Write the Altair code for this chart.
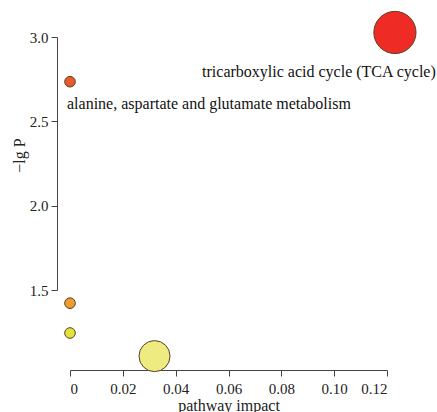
import altair as alt
import pandas as pd

pathways = [
    "tricarboxylic acid cycle (TCA cycle)",
    "alanine, aspartate and glutamate metabolism",
    "pathway 3",
    "pathway 4",
    "pathway 5",
]
impact = [0.123, 0.0, 0.0, 0.0, 0.032]
neglogp = [3.027, 2.735, 1.422, 1.245, 1.108]
labels = [
    "tricarboxylic acid cycle (TCA cycle)",
    "alanine, aspartate and glutamate metabolism",
    "",
    "",
    "",
]
colors = ["#EE2B25", "#E85A2A", "#EE9B32", "#E2E23A", "#EEEC80"]

df = pd.DataFrame({"pathway": pathways, "impact": impact, "lgp": neglogp, "label": labels})

FONT = "Liberation Serif"

x = alt.X(
    "impact:Q",
    scale=alt.Scale(domain=[0, 0.12], nice=False, zero=False),
    axis=alt.Axis(
        title="pathway impact",
        values=[0, 0.02, 0.04, 0.06, 0.08, 0.10, 0.12],
        labelExpr="datum.value == 0 ? '0' : format(datum.value, '.2f')",
        offset=80,
        grid=False,
        tickSize=6,
        labelPadding=5,
        titlePadding=1,
        labelFontSize=15,
        titleFontSize=16,
    ),
)
y = alt.Y(
    "lgp:Q",
    scale=alt.Scale(domain=[1.5, 3.0], nice=False, zero=False),
    axis=alt.Axis(
        title="−lg P",
        values=[1.5, 2.0, 2.5, 3.0],
        format=".1f",
        offset=13,
        grid=False,
        tickSize=6,
        labelPadding=3,
        titlePadding=2,
        titleY=118,
        labelFontSize=15,
        titleFontSize=16,
    ),
)

points = alt.Chart(df).mark_circle(opacity=1, stroke="#5a4028", strokeWidth=1).encode(
    x=x,
    y=y,
    size=alt.Size(
        "impact:Q",
        scale=alt.Scale(type="pow", exponent=0.5, domain=[0, 0.123], range=[113, 1780]),
        legend=None,
    ),
    color=alt.Color("pathway:N", scale=alt.Scale(domain=pathways, range=colors), legend=None),
)

tca = alt.Chart(df).transform_filter(alt.datum.label == labels[0]).mark_text(
    font=FONT, fontSize=16, align="center", baseline="middle", dx=-76, dy=40, color="#111"
).encode(x="impact:Q", y="lgp:Q", text="label:N")

ala = alt.Chart(df).transform_filter(alt.datum.label == labels[1]).mark_text(
    font=FONT, fontSize=16, align="left", baseline="middle", dx=-3, dy=22, color="#111"
).encode(x="impact:Q", y="lgp:Q", text="label:N")

chart = (
    alt.layer(points, tca, ala)
    .properties(
        width=317,
        height=253,
        autosize=alt.AutoSizeParams(type="none"),
        padding={"left": 70, "top": 37, "right": 50, "bottom": 122},
        background="white",
    )
    .configure_view(stroke=None)
    .configure_axis(
        labelFont=FONT,
        titleFont=FONT,
        titleFontWeight="normal",
        labelColor="#222",
        titleColor="#222",
        domainColor="#444",
        tickColor="#444",
    )
)

chart.save("out.html", embed_options={"renderer": "svg", "actions": False})
